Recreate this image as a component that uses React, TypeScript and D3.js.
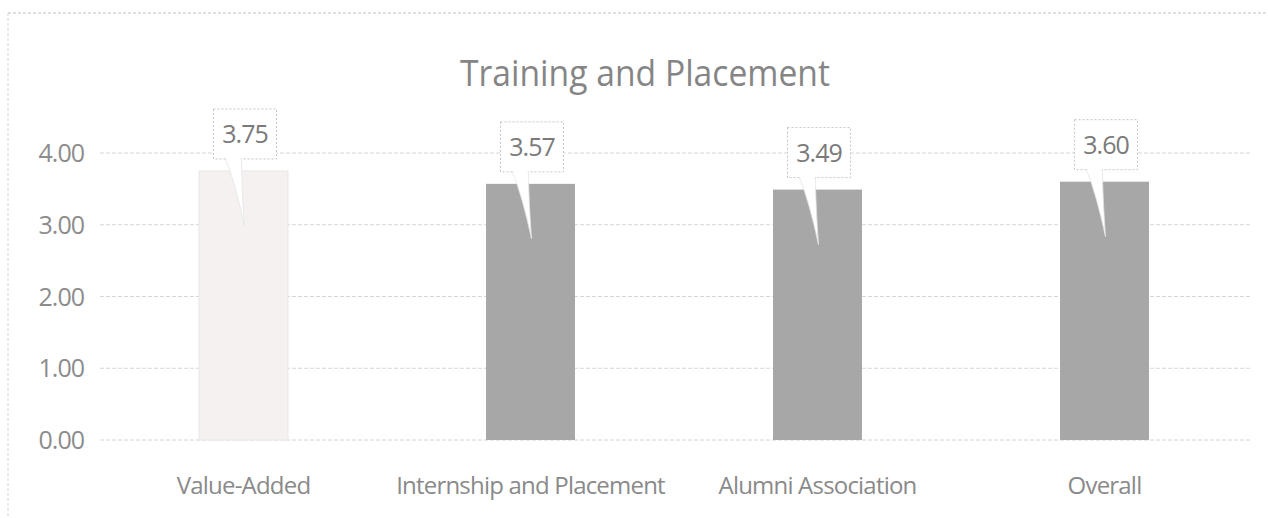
import * as d3 from 'd3';

const categories = ['Value-Added', 'Internship and Placement', 'Alumni Association', 'Overall'];
const values = [3.75, 3.57, 3.49, 3.6];
const valueLabels = ['3.75', '3.57', '3.49', '3.60'];
const yTicks = [0, 1, 2, 3, 4];
const barColors = ['#f5f1f1', '#a7a7a7', '#a7a7a7', '#a7a7a7'];

const W = 1268;
const H = 518;
const FONT = "'Open Sans', 'Noto Sans', sans-serif";

export default function App() {
  const x = d3
    .scaleBand<string>()
    .domain(categories)
    .range([100, 1248])
    .paddingInner(0.69)
    .paddingOuter(0.345);
  const y = d3.scaleLinear().domain([0, 4]).range([440, 153]);

  // callout tail: curved wedge from box bottom down into the bar
  const tail = (cx: number, top: number, tip: number) => {
    const p = d3.path();
    p.moveTo(cx - 18, top);
    p.quadraticCurveTo(cx - 8, top + 25, cx + 1, tip);
    p.quadraticCurveTo(cx - 2, top + 25, cx - 2, top);
    p.closePath();
    return p.toString();
  };

  return (
    <svg
      width={W}
      height={H}
      style={{ position: 'absolute', left: 0, top: 0, background: '#fff' }}
    >
      {/* frame */}
      <line x1={8} x2={W} y1={13} y2={13} stroke="#c0c0c0" strokeDasharray="3,2" />
      <line x1={8} x2={8} y1={13} y2={H} stroke="#d4d4d4" strokeDasharray="3,2" />

      <text
        x={645}
        y={86}
        textAnchor="middle"
        fontFamily={FONT}
        fontSize={37}
        fill="#858585"
        textLength={370}
        lengthAdjust="spacingAndGlyphs"
      >
        Training and Placement
      </text>

      {yTicks.map((t) => (
        <g key={t}>
          <line
            x1={100}
            x2={1250}
            y1={y(t)}
            y2={y(t)}
            stroke="#d6d6d6"
            strokeDasharray="4,2"
          />
          <text
            x={84}
            y={y(t) + 9}
            textAnchor="end"
            fontFamily={FONT}
            fontSize={25}
            fill="#8c8c8c"
            letterSpacing={-1}
          >
            {t.toFixed(2)}
          </text>
        </g>
      ))}

      {categories.map((c, i) => {
        const bx = x(c)!;
        const bw = x.bandwidth();
        const cx = bx + bw / 2;
        const top = y(values[i]);
        const boxBottom = top - 12;
        const boxTop = boxBottom - 50;
        return (
          <g key={c}>
            <rect
              x={bx}
              y={top}
              width={bw}
              height={y(0) - top}
              fill={barColors[i]}
              stroke={i === 0 ? '#ece6e6' : 'none'}
            />
            <rect
              x={cx - 30}
              y={boxTop}
              width={63}
              height={50}
              fill="#fff"
              stroke="#c4c4c4"
              strokeDasharray="2,2"
            />
            <path d={tail(cx, boxBottom, top + 55)} fill="#fff" stroke="#e4e4e4" strokeWidth={0.8} />
            <rect x={cx - 17} y={boxBottom - 2} width={14} height={4} fill="#fff" />
            <text
              x={cx + 1.5}
              y={boxTop + 34}
              textAnchor="middle"
              fontFamily={FONT}
              fontSize={25}
              fill="#7a7a7a"
              letterSpacing={-1}
            >
              {valueLabels[i]}
            </text>
            <text
              x={cx}
              y={494}
              textAnchor="middle"
              fontFamily={FONT}
              fontSize={24}
              fill="#8a8a8a"
              letterSpacing={-0.8}
            >
              {c}
            </text>
          </g>
        );
      })}
    </svg>
  );
}
